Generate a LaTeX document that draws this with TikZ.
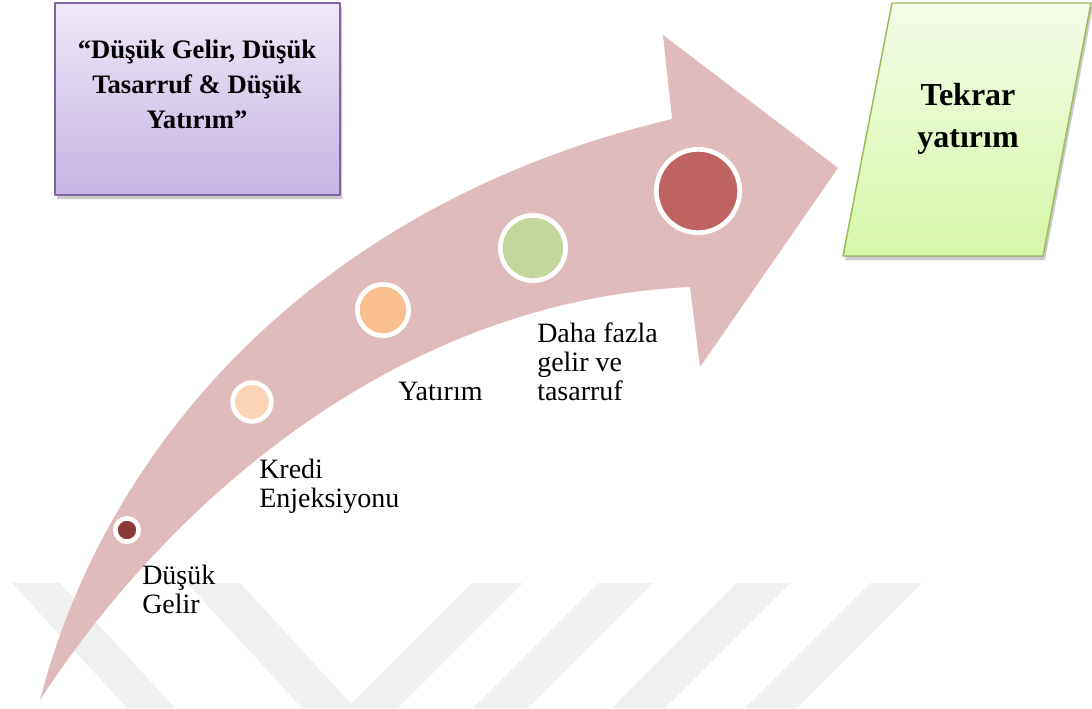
\documentclass[tikz,border=0pt]{standalone}
\usepackage{fontspec}
\setmainfont{Liberation Serif}
\usetikzlibrary{calc,shadows}
\usepackage{tkz-euclide}
\definecolor{ArrowClr}{RGB}{224,187,187}
\definecolor{WaterClr}{RGB}{240,240,240}
\definecolor{BoxLine}{RGB}{128,100,162}
\definecolor{BoxTop}{RGB}{238,232,248}
\definecolor{BoxBot}{RGB}{199,180,227}
\definecolor{ParLine}{RGB}{155,187,89}
\definecolor{ParTop}{RGB}{243,252,232}
\definecolor{ParBot}{RGB}{214,247,168}
\definecolor{DotA}{RGB}{140,56,56}
\definecolor{DotB}{RGB}{251,213,181}
\definecolor{DotC}{RGB}{250,192,144}
\definecolor{DotD}{RGB}{195,214,155}
\definecolor{DotE}{RGB}{190,99,97}

\tikzset{
  stagedot/.style={circle,draw=white,line width=3.5pt,inner sep=0pt},
  stagelabel/.style={anchor=base west,align=left,inner sep=0pt,font=\fontsize{21}{21.5}\selectfont},
  boxshadow/.style={drop shadow={shadow xshift=1.5pt,shadow yshift=-3pt,opacity=0.35,fill=black!60}}
}

\begin{document}
\begin{tikzpicture}[x=0.75pt,y=-0.75pt]
\useasboundingbox (0,0) rectangle (1092,708);

\tkzDefPoints{40/700/T,672/119/U,663/35/H,838/168/Tip,700/367/K,690/287/L}
\tkzDefPoints{55/3/P1,340/3/P2,340/195/P3,55/195/P4}
\tkzDefPoints{892/3/G1,1091/3/G2,1043/256/G3,843/256/G4}

% faint stripes at the bottom
\fill[WaterClr] (12,583) -- (60,583) -- (175,708) -- (127,708) -- cycle;
\fill[WaterClr] (187,583) -- (240,583) -- (355,708) -- (302,708) -- cycle;
\fill[WaterClr] (472,583) -- (523,583) -- (398,708) -- (347,708) -- cycle;
\fill[WaterClr] (598,583) -- (653,583) -- (528,708) -- (473,708) -- cycle;
\fill[WaterClr] (737,583) -- (790,583) -- (665,708) -- (612,708) -- cycle;
\fill[WaterClr] (870,583) -- (922,583) -- (797,708) -- (745,708) -- cycle;

% the bent arrow
\fill[ArrowClr] (T) .. controls (110,430) and (330,200) .. (U) -- (H) -- (Tip)
  -- (K) -- (L) .. controls (400,300) and (170,500) .. (T) -- cycle;

% boxes
\tkzFillPolygon[top color=BoxTop,bottom color=BoxBot,boxshadow](P1,P2,P3,P4)
\tkzDrawPolygon[color=BoxLine,line width=1.5pt](P1,P2,P3,P4)
\tkzFillPolygon[top color=ParTop,bottom color=ParBot,boxshadow](G1,G2,G3,G4)
\tkzDrawPolygon[color=ParLine,line width=1.1pt](G1,G2,G3,G4)

\node[anchor=base,align=center,inner sep=0pt,font=\bfseries\fontsize{20}{26.25}\selectfont]
  (lowtxt) at (197,128) {“Düşük Gelir, Düşük\\Tasarruf \& Düşük\\Yatırım”};
\node[anchor=base,align=center,inner sep=0pt,font=\bfseries\fontsize{24}{31.5}\selectfont]
  (againtxt) at (968,147) {Tekrar\\yatırım};

% stages
\node[stagedot,fill=DotA,minimum size=17.5pt] (s1) at (127,530) {};
\node[stagedot,fill=DotB,minimum size=29pt] (s2) at (252,402) {};
\node[stagedot,fill=DotC,minimum size=38.5pt] (s3) at (383,310) {};
\node[stagedot,fill=DotD,minimum size=49pt] (s4) at (533,248) {};
\node[stagedot,fill=DotE,minimum size=62.5pt] (s5) at (698,191) {};

\node[stagelabel] (lowinc) at (142,613) {Düşük\\Gelir};
\node[stagelabel] (credit) at (259,507) {Kredi\\Enjeksiyonu};
\node[stagelabel] (invest) at (398,400) {Yatırım};
\node[stagelabel] (more) at (537,400) {Daha fazla\\gelir ve\\tasarruf};

\end{tikzpicture}
\end{document}
